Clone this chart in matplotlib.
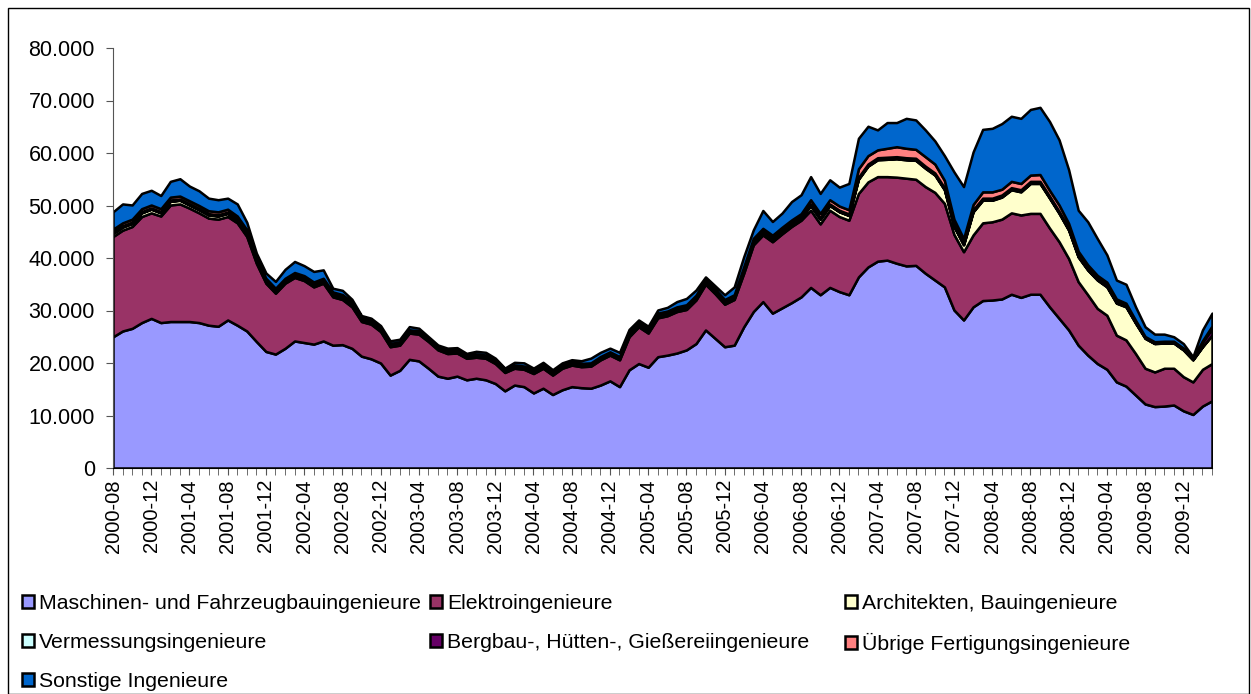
import matplotlib
matplotlib.use("Agg")
import matplotlib.pyplot as plt
from matplotlib.patches import Rectangle
from matplotlib.ticker import FuncFormatter
import numpy as np
import pandas as pd

plt.rcParams['font.family'] = ['Liberation Sans', 'DejaVu Sans']

# Monthly values in 1000 persons, 2000-08 .. 2010-03
months = pd.period_range("2000-08", periods=116, freq="M").strftime("%Y-%m")

maschinen = [25.0, 26.1, 26.6, 27.7, 28.5, 27.7, 27.9, 27.9, 27.9, 27.7,
             27.2, 27.0, 28.2, 27.2, 26.1, 24.1, 22.2, 21.7, 22.8, 24.2,
             23.9, 23.6, 24.2, 23.4, 23.5, 22.8, 21.3, 20.8, 20.0, 17.7,
             18.6, 20.7, 20.4, 19.0, 17.5, 17.1, 17.5, 16.8, 17.1, 16.8,
             16.1, 14.7, 15.8, 15.5, 14.3, 15.2, 14.0, 14.9, 15.5, 15.3,
             15.2, 15.8, 16.6, 15.5, 18.7, 19.9, 19.2, 21.2, 21.5, 21.9,
             22.5, 23.7, 26.3, 24.7, 23.1, 23.4, 26.9, 29.8, 31.7, 29.5,
             30.5, 31.5, 32.6, 34.4, 33.0, 34.4, 33.6, 33.0, 36.4, 38.3,
             39.4, 39.6, 39.0, 38.5, 38.6, 37.1, 35.8, 34.5, 30.1, 28.2,
             30.7, 31.9, 32.0, 32.2, 33.1, 32.5, 33.1, 33.1, 30.7, 28.5,
             26.3, 23.4, 21.5, 19.9, 18.8, 16.4, 15.6, 13.9, 12.2, 11.7,
             11.8, 12.0, 10.9, 10.2, 11.8, 12.8]

elektro = [19.1, 19.2, 19.4, 20.2, 20.1, 20.3, 22.2, 22.4, 21.6, 20.9,
           20.4, 20.4, 19.7, 19.5, 18.0, 14.9, 13.0, 11.6, 12.4, 12.1,
           11.8, 10.9, 11.0, 9.2, 8.6, 7.9, 6.6, 6.6, 6.0, 5.4,
           4.8, 5.0, 5.1, 5.1, 5.0, 4.7, 4.4, 4.1, 4.0, 4.1,
           3.8, 3.5, 3.2, 3.3, 3.7, 3.8, 3.7, 4.1, 4.1, 4.0,
           4.2, 4.8, 4.9, 5.1, 6.3, 7.0, 6.5, 7.4, 7.5, 7.9,
           7.7, 8.3, 8.7, 8.5, 8.1, 8.7, 10.2, 12.7, 12.7, 13.6,
           14.1, 14.5, 14.6, 14.7, 13.5, 14.7, 14.3, 14.2, 15.9, 16.2,
           16.1, 15.9, 16.4, 16.7, 16.4, 16.5, 16.7, 15.9, 14.4, 13.0,
           13.7, 14.8, 14.9, 15.2, 15.5, 15.7, 15.4, 15.4, 15.0, 14.6,
           13.6, 12.1, 11.5, 10.5, 10.3, 8.9, 8.8, 7.9, 6.8, 6.6,
           7.2, 7.0, 6.5, 6.2, 7.0, 7.1]

architekten = [0.6, 0.6, 0.6, 0.7, 0.7, 0.6, 0.7, 0.7, 0.6, 0.6,
               0.6, 0.6, 0.6, 0.5, 0.5, 0.4, 0.4, 0.4, 0.4, 0.4,
               0.4, 0.4, 0.4, 0.4, 0.4, 0.4, 0.4, 0.4, 0.3, 0.3,
               0.3, 0.3, 0.3, 0.3, 0.3, 0.3, 0.3, 0.3, 0.3, 0.3,
               0.3, 0.3, 0.3, 0.3, 0.3, 0.3, 0.3, 0.3, 0.3, 0.3,
               0.3, 0.3, 0.3, 0.3, 0.4, 0.4, 0.4, 0.4, 0.4, 0.4,
               0.4, 0.4, 0.4, 0.4, 0.4, 0.4, 0.5, 0.5, 0.5, 0.5,
               0.5, 0.5, 0.5, 0.9, 0.9, 0.9, 0.9, 0.9, 2.7, 3.0,
               3.2, 3.3, 3.5, 3.5, 3.6, 3.5, 3.3, 2.6, 1.5, 1.3,
               4.4, 4.3, 4.1, 4.2, 4.4, 4.4, 5.7, 5.7, 5.7, 5.4,
               5.4, 4.7, 4.7, 5.4, 5.4, 6.1, 6.3, 5.8, 5.7, 5.4,
               4.8, 4.8, 5.1, 4.2, 4.3, 5.4]

vermessung = [0.05, 0.05, 0.05, 0.05, 0.05, 0.05, 0.05, 0.05, 0.05, 0.05,
              0.05, 0.05, 0.05, 0.05, 0.05, 0.04, 0.04, 0.04, 0.04, 0.04,
              0.04, 0.04, 0.04, 0.04, 0.04, 0.04, 0.04, 0.04, 0.03, 0.03,
              0.03, 0.03, 0.03, 0.03, 0.03, 0.03, 0.03, 0.03, 0.03, 0.03,
              0.03, 0.03, 0.03, 0.03, 0.03, 0.03, 0.03, 0.03, 0.03, 0.03,
              0.03, 0.03, 0.03, 0.03, 0.05, 0.05, 0.05, 0.05, 0.05, 0.05,
              0.05, 0.05, 0.05, 0.05, 0.05, 0.05, 0.05, 0.05, 0.05, 0.05,
              0.05, 0.05, 0.05, 0.05, 0.05, 0.05, 0.05, 0.05, 0.1, 0.1,
              0.1, 0.1, 0.1, 0.1, 0.1, 0.1, 0.1, 0.1, 0.1, 0.1,
              0.1, 0.1, 0.1, 0.1, 0.1, 0.1, 0.1, 0.1, 0.1, 0.1,
              0.1, 0.1, 0.1, 0.1, 0.1, 0.1, 0.1, 0.05, 0.05, 0.05,
              0.05, 0.05, 0.05, 0.05, 0.05, 0.05]

bergbau = [0.2, 0.2, 0.2, 0.2, 0.2, 0.2, 0.2, 0.2, 0.2, 0.2,
           0.2, 0.2, 0.2, 0.2, 0.2, 0.15, 0.15, 0.15, 0.15, 0.15,
           0.15, 0.15, 0.15, 0.15, 0.15, 0.15, 0.15, 0.15, 0.1, 0.1,
           0.1, 0.1, 0.1, 0.1, 0.1, 0.1, 0.1, 0.1, 0.1, 0.1,
           0.1, 0.1, 0.1, 0.1, 0.1, 0.1, 0.1, 0.1, 0.1, 0.1,
           0.1, 0.1, 0.1, 0.1, 0.15, 0.15, 0.15, 0.15, 0.15, 0.15,
           0.15, 0.15, 0.15, 0.15, 0.15, 0.15, 0.2, 0.2, 0.2, 0.2,
           0.2, 0.2, 0.2, 0.25, 0.25, 0.25, 0.25, 0.25, 0.3, 0.3,
           0.3, 0.3, 0.3, 0.3, 0.3, 0.3, 0.3, 0.3, 0.3, 0.3,
           0.3, 0.3, 0.3, 0.3, 0.3, 0.3, 0.3, 0.3, 0.3, 0.3,
           0.3, 0.3, 0.3, 0.3, 0.3, 0.3, 0.3, 0.3, 0.2, 0.2,
           0.2, 0.2, 0.2, 0.2, 0.8, 1.2]

uebrige = [0.55, 0.55, 0.55, 0.55, 0.55, 0.55, 0.55, 0.55, 0.55, 0.55,
           0.55, 0.55, 0.55, 0.55, 0.55, 0.35, 0.35, 0.35, 0.35, 0.35,
           0.35, 0.35, 0.35, 0.35, 0.35, 0.35, 0.35, 0.35, 0.2, 0.2,
           0.2, 0.2, 0.2, 0.2, 0.2, 0.2, 0.2, 0.2, 0.2, 0.2,
           0.2, 0.2, 0.2, 0.2, 0.2, 0.2, 0.2, 0.2, 0.2, 0.2,
           0.2, 0.2, 0.2, 0.2, 0.3, 0.3, 0.3, 0.3, 0.3, 0.3,
           0.3, 0.3, 0.3, 0.3, 0.3, 0.3, 0.5, 0.5, 0.5, 0.5,
           0.5, 0.5, 0.5, 0.8, 0.8, 0.8, 0.8, 0.8, 1.6, 1.6,
           1.5, 1.7, 1.9, 1.8, 1.7, 1.8, 1.7, 1.4, 1.0, 0.8,
           1.0, 1.2, 1.2, 1.1, 1.2, 1.2, 1.2, 1.3, 1.1, 1.2,
           0.9, 0.7, 0.6, 0.5, 0.5, 0.4, 0.3, 0.2, 0.1, 0.1,
           0.1, 0.1, 0.1, 0.05, 0.3, 0.5]

sonstige = [3.3, 3.6, 2.7, 2.9, 2.8, 2.5, 3.0, 3.3, 2.8, 2.8,
            2.4, 2.3, 2.1, 2.3, 1.4, 1.0, 1.0, 1.3, 1.7, 2.1,
            1.9, 2.0, 1.6, 0.7, 0.8, 0.5, 0.2, 0.2, 0.5, 0.5,
            0.5, 0.6, 0.5, 0.3, 0.3, 0.4, 0.4, 0.3, 0.5, 0.5,
            0.4, 0.2, 0.5, 0.6, 0.4, 0.5, 0.4, 0.4, 0.4, 0.5,
            0.9, 0.8, 0.7, 0.8, 0.5, 0.4, 0.4, 0.6, 0.7, 1.0,
            1.2, 1.0, 0.5, 0.6, 0.9, 1.5, 1.9, 1.6, 3.4, 2.6,
            2.7, 3.5, 3.6, 4.4, 3.8, 3.8, 3.6, 5.0, 5.8, 5.6,
            3.8, 4.9, 4.6, 5.7, 5.6, 5.1, 4.4, 4.7, 9.0, 9.9,
            10.0, 11.9, 12.1, 12.5, 12.4, 12.4, 12.5, 12.8, 13.1, 12.4,
            10.2, 7.8, 8.2, 7.0, 5.2, 3.6, 3.6, 2.55, 1.85, 1.45,
            1.35, 0.85, 0.85, 0.3, 2.05, 2.45]

labels = ["Maschinen- und Fahrzeugbauingenieure", "Elektroingenieure",
          "Architekten, Bauingenieure", "Vermessungsingenieure",
          "Bergbau-, Hütten-, Gießereiingenieure", "Übrige Fertigungsingenieure",
          "Sonstige Ingenieure"]
colors = ["#9999FF", "#993366", "#FFFFCC", "#CCFFFF", "#660066", "#FF8080", "#0066CC"]

series = [maschinen, elektro, architekten, vermessung, bergbau, uebrige, sonstige]
series = [np.array(s) * 1000 for s in series]
x = np.arange(len(months))

fig = plt.figure(figsize=(12.51, 6.94), dpi=100)
ax = fig.add_axes([113 / 1251, 1 - 468 / 694, 1099 / 1251, 420 / 694])

polys = ax.stackplot(x, *series, colors=colors, labels=labels,
                     edgecolor="black", linewidth=1.8)

ax.set_xlim(0, len(months) - 1)
ax.set_ylim(0, 80000)
ax.set_yticks(range(0, 80001, 10000))
ax.yaxis.set_major_formatter(FuncFormatter(lambda v, p: f"{int(v):,}".replace(",", ".")))

ax.set_xticks(x[::4])
ax.set_xticklabels(months[::4], rotation=90)
ax.set_xticks(x, minor=True)

for s in ["top", "right"]:
    ax.spines[s].set_visible(False)
ax.spines["left"].set_color("#555555")
ax.spines["bottom"].set_color("black")
ax.tick_params(axis="both", which="both", direction="out", length=5, color="#555555")
ax.tick_params(axis="y", labelsize=15.5, pad=8)
ax.tick_params(axis="x", labelsize=14.5, pad=3)

# legend: three columns at fixed x positions, filled row by row
columns = [([0, 3, 6], 22), ([1, 4], 430), ([2, 5], 845)]
for idx, xpos in columns:
    leg = fig.legend([polys[i] for i in idx], [labels[i] for i in idx],
                     loc="upper left", bbox_to_anchor=(xpos / 1251, 1 - 594 / 694),
                     frameon=False, fontsize=15.3, handlelength=0.55,
                     handleheight=0.55, handletextpad=0.25,
                     labelspacing=0.95, borderpad=0, borderaxespad=0)

fig.patches.append(Rectangle((8 / 1251, 0), 1241 / 1251, 1 - 8 / 694,
                             transform=fig.transFigure, fill=False,
                             edgecolor="black", linewidth=1))

fig.savefig("out.png", dpi=100)
